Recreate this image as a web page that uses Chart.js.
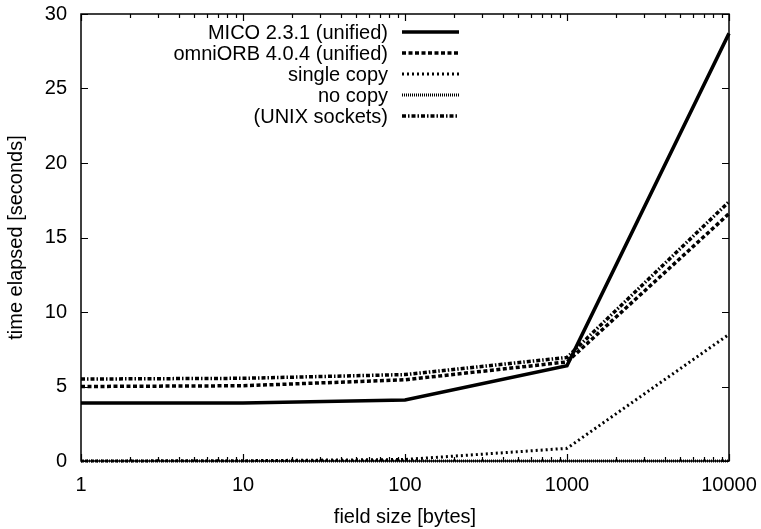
<!DOCTYPE html>
<html>
<head>
<meta charset="utf-8">
<script src="https://cdn.jsdelivr.net/npm/chart.js@4/dist/chart.umd.min.js"></script>
<style>
  html, body { margin: 0; padding: 0; background: #fff; }
  #chart { display: block; }
</style>
</head>
<body>
<canvas id="chart" width="761" height="529"></canvas>
<script>
// field sizes (x, log scale)
const fieldSizes = [1, 10, 100, 1000, 10000];

// time elapsed [seconds] per series
const micoUnified = [3.9, 3.9, 4.1, 6.4, 28.7];
const omniUnified = [5.0, 5.05, 5.45, 6.65, 16.6];
const singleCopy = [0.0, 0.02, 0.1, 0.85, 8.5];
const noCopy = [0.0, 0.0, 0.0, 0.0, 0.0];
const unixSockets = [5.5, 5.55, 5.8, 6.95, 17.4];

const seriesLabels = [
    'MICO 2.3.1 (unified)',
    'omniORB 4.0.4 (unified)',
    'single copy',
    'no copy',
    '(UNIX sockets)'
];

const yTicks = [0, 5, 10, 15, 20, 25, 30];
const xMajorTicks = [1, 10, 100, 1000, 10000];

const FONT = '"Liberation Sans", Arial, Helvetica, sans-serif';
const FONT_SIZE = 20;

const toPoints = (values) => values.map((v, i) => ({ x: fieldSizes[i], y: v }));

const lineStyle = (label, values, dash, width) => ({
    label: label,
    data: toPoints(values),
    borderColor: '#000',
    backgroundColor: '#000',
    borderWidth: width,
    borderDash: dash,
    borderCapStyle: 'butt',
    pointRadius: 0,
    tension: 0,
    fill: false,
    clip: 6
});

const datasets = [
    lineStyle(seriesLabels[0], micoUnified, [], 3.5),
    lineStyle(seriesLabels[1], omniUnified, [4, 2.5], 3.5),
    lineStyle(seriesLabels[2], singleCopy, [2, 3], 3),
    lineStyle(seriesLabels[3], noCopy, [1, 1], 3),
    lineStyle(seriesLabels[4], unixSockets, [4, 2, 1.5, 2], 3.5)
];

// gnuplot style frame with inward ticks on all four sides
const framePlugin = {
    id: 'frame',
    afterDatasetsDraw(chart) {
        const { ctx, chartArea: a, scales } = chart;
        const xs = scales.x, ys = scales.y;
        ctx.save();
        ctx.strokeStyle = '#000';
        ctx.lineWidth = 1.2;
        ctx.beginPath();
        yTicks.forEach(v => {
            const py = Math.round(ys.getPixelForValue(v)) + 0.5;
            ctx.moveTo(a.left, py); ctx.lineTo(a.left + 7, py);
            ctx.moveTo(a.right, py); ctx.lineTo(a.right - 7, py);
        });
        for (let d = 1; d <= 10000; d *= 10) {
            for (let m = 1; m <= 9; m++) {
                const v = d * m;
                if (v > 10000) break;
                const len = m === 1 ? 7 : 4;
                const px = Math.round(xs.getPixelForValue(v)) + 0.5;
                ctx.moveTo(px, a.bottom); ctx.lineTo(px, a.bottom - len);
                ctx.moveTo(px, a.top); ctx.lineTo(px, a.top + len);
            }
        }
        ctx.stroke();
        ctx.lineWidth = 1.5;
        ctx.strokeRect(a.left, a.top, a.right - a.left, a.bottom - a.top);
        ctx.restore();
    }
};

// legend: text right aligned, line sample on its right
const keyPlugin = {
    id: 'key',
    afterDatasetsDraw(chart) {
        const { ctx, chartArea: a } = chart;
        const textRight = 388, sampleLeft = 402, sampleRight = 459;
        ctx.save();
        ctx.font = FONT_SIZE + 'px ' + FONT;
        ctx.fillStyle = '#000';
        ctx.textAlign = 'right';
        ctx.textBaseline = 'middle';
        chart.data.datasets.forEach((ds, i) => {
            const y = a.top + 18 + i * 21;
            ctx.fillText(ds.label, textRight, y + 1);
            ctx.beginPath();
            ctx.strokeStyle = ds.borderColor;
            ctx.lineWidth = ds.borderWidth;
            ctx.setLineDash(ds.borderDash);
            ctx.lineCap = 'butt';
            ctx.moveTo(sampleLeft, y);
            ctx.lineTo(sampleRight, y);
            ctx.stroke();
        });
        ctx.restore();
    }
};

Chart.defaults.font.family = FONT;
Chart.defaults.font.size = FONT_SIZE;
Chart.defaults.color = '#000';

new Chart(document.getElementById('chart'), {
    type: 'line',
    data: { datasets: datasets },
    options: {
        responsive: false,
        animation: false,
        layout: { padding: { top: 14, right: 32, left: 0, bottom: 0 } },
        plugins: {
            legend: { display: false },
            tooltip: { enabled: false }
        },
        scales: {
            x: {
                type: 'logarithmic',
                position: 'bottom',
                min: 1,
                max: 10000,
                grid: { display: false, drawTicks: false },
                border: { display: false },
                afterBuildTicks: (scale) => {
                    scale.ticks = xMajorTicks.map(v => ({ value: v }));
                },
                ticks: {
                    autoSkip: false,
                    maxRotation: 0,
                    padding: 12,
                    callback: (v) => String(v)
                },
                title: {
                    display: true,
                    text: 'field size [bytes]',
                    padding: { top: 0, bottom: 0 }
                },
                afterFit: (scale) => {
                    scale.height = 68;
                    scale.paddingLeft = 0;
                    scale.paddingRight = 0;
                }
            },
            y: {
                min: 0,
                max: 30,
                grid: { display: false, drawTicks: false },
                border: { display: false },
                afterBuildTicks: (scale) => {
                    scale.ticks = yTicks.map(v => ({ value: v }));
                },
                ticks: { padding: 14 },
                title: {
                    display: true,
                    text: 'time elapsed [seconds]',
                    padding: { top: 4.5, bottom: 0 }
                },
                afterFit: (scale) => {
                    scale.width = 81;
                    scale.paddingTop = 0;
                    scale.paddingBottom = 0;
                }
            }
        }
    },
    plugins: [framePlugin, keyPlugin]
});
</script>
</body>
</html>
